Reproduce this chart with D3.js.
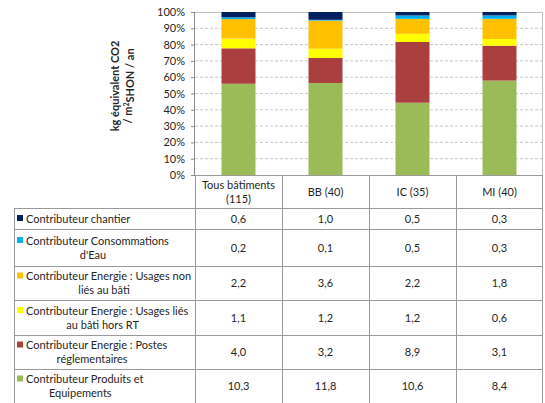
<!DOCTYPE html>
<html><head><meta charset="utf-8">
<script src="https://cdn.jsdelivr.net/npm/d3@7"></script>
<style>body{margin:0;background:#fff}svg{display:block}text{font-family:Lato,"Liberation Sans",sans-serif;fill:#262626}</style>
</head><body><svg id="c" width="545" height="403"></svg>
<script>
const categories = ["Tous bâtiments (115)", "BB (40)", "IC (35)", "MI (40)"];
const categoryLines = [["Tous bâtiments", "(115)"], ["BB (40)"], ["IC (35)"], ["MI (40)"]];
const seriesNames = ["Contributeur chantier", "Contributeur Consommations d'Eau", "Contributeur Energie : Usages non liés au bâti", "Contributeur Energie : Usages liés au bâti hors RT", "Contributeur Energie : Postes réglementaires", "Contributeur Produits et Equipements"];
const seriesLines = [["Contributeur chantier"], ["Contributeur Consommations", "d'Eau"], ["Contributeur Energie : Usages non", "liés au bâti"], ["Contributeur Energie : Usages liés", "au bâti hors RT"], ["Contributeur Energie : Postes", "réglementaires"], ["Contributeur Produits et", "Equipements"]];
const chantier = [0.6, 1.0, 0.5, 0.3];
const eau = [0.2, 0.1, 0.5, 0.3];
const nonLies = [2.2, 3.6, 2.2, 1.8];
const lies = [1.1, 1.2, 1.2, 0.6];
const postes = [4.0, 3.2, 8.9, 3.1];
const produits = [10.3, 11.8, 10.6, 8.4];
const seriesColors = ["#002060", "#00B0F0", "#FFC000", "#FFFF00", "#A9403F", "#9BBB59"];
const yTicks = [0, 0.1, 0.2, 0.3, 0.4, 0.5, 0.6, 0.7, 0.8, 0.9, 1.0];
const yTitle = ["kg équivalent CO2", "/ m²SHON / an"];

const seriesValues = [chantier, eau, nonLies, lies, postes, produits];
const svg = d3.select("#c");
const plotL = 195, plotR = 543, plotT = 12, plotB = 175;
const x = d3.scaleBand().domain(categories).range([plotL, plotR]).paddingInner(0).paddingOuter(0);
const y = d3.scaleLinear().domain([0, 1]).range([plotB, plotT]);

// gridlines
svg.append("g").selectAll("line").data(yTicks.filter(d => d > 0 && d < 1)).join("line")
  .attr("x1", plotL).attr("x2", plotR).attr("y1", d => y(d)).attr("y2", d => y(d))
  .attr("stroke", "#c8c8c8").attr("stroke-width", 1).attr("stroke-dasharray", "3,2");
// plot border top & right
svg.append("path").attr("d", `M${plotL},${y(1)+0.5}H${plotR-0.5}V${plotB}`).attr("fill", "none").attr("stroke", "#bfbfbf");

// stacked bars (bottom: produits)
const rows = categories.map((c, i) => {
  const o = {cat: c};
  seriesNames.forEach((s, j) => o[s] = seriesValues[j][i]);
  return o;
});
const stackOrder = seriesNames.slice().reverse();
const stacked = d3.stack().keys(stackOrder).offset(d3.stackOffsetExpand)(rows);
const bw = 34;
svg.append("g").selectAll("g").data(stacked).join("g")
  .attr("fill", d => seriesColors[seriesNames.indexOf(d.key)])
  .selectAll("rect").data(d => d).join("rect")
  .attr("x", d => x(d.data.cat) + x.bandwidth()/2 - bw/2).attr("width", bw)
  .attr("y", d => y(d[1])).attr("height", d => y(d[0]) - y(d[1]));

// y axis
const ax = svg.append("g").attr("transform", `translate(${plotL},0)`)
  .call(d3.axisLeft(y).tickValues(yTicks).tickFormat(d3.format(".0%")).tickSize(4).tickPadding(6));
ax.select(".domain").attr("stroke", "#8c8c8c").attr("d", `M-0.5,${plotT}V${plotB}`);
ax.selectAll(".tick line").attr("stroke", "#8c8c8c");
ax.selectAll(".tick text").style("font-family", "Lato, sans-serif").style("font-size", "11px").attr("fill", "#262626");

// y title
const yt = svg.append("text").attr("transform", "translate(122,86) rotate(-90)")
  .attr("text-anchor", "middle").style("font-size", "11px").style("font-weight", "bold");
yTitle.forEach((t, i) => {
  const ts = yt.append("tspan").attr("x", 0).attr("dy", i === 0 ? "-0.25em" : "1.15em");
  if (t.includes("²")) {
    ts.text("/ m");
    yt.append("tspan").text("2").attr("dy", "-0.45em").style("font-size", "7px");
    yt.append("tspan").text("SHON / an").attr("dy", "0.45em");
  } else ts.text(t);
});

// data table
const rowEdges = [175, 208, 229, 266, 300, 335, 369, 403];
const tableL = 14;
const tg = svg.append("g");
const lineColor = "#9a9a9a";
rowEdges.forEach((ry, i) => {
  if (i === 0) return;
  tg.append("line").attr("x1", tableL).attr("x2", plotR)
    .attr("y1", ry + 0.5).attr("y2", ry + 0.5).attr("stroke", lineColor);
});
tg.append("line").attr("x1", plotL).attr("x2", plotR).attr("y1", 175.5).attr("y2", 175.5).attr("stroke", lineColor);
tg.append("line").attr("x1", tableL + 0.5).attr("x2", tableL + 0.5).attr("y1", 208).attr("y2", 403).attr("stroke", lineColor);
categories.forEach(c => {
  tg.append("line").attr("x1", x(c) + 0.5).attr("x2", x(c) + 0.5).attr("y1", 175).attr("y2", 403).attr("stroke", lineColor);
});
tg.append("line").attr("x1", plotR - 0.5).attr("x2", plotR - 0.5).attr("y1", 175).attr("y2", 403).attr("stroke", lineColor);

// header labels
categories.forEach((c, i) => {
  const lines = categoryLines[i];
  const cy = (rowEdges[0] + rowEdges[1]) / 2;
  const t = tg.append("text").attr("text-anchor", "middle").style("font-size", "11px");
  lines.forEach((l, k) => t.append("tspan").attr("x", x(c) + x.bandwidth()/2)
    .attr("y", cy + (k - (lines.length - 1)/2) * 14 + 4).text(l));
});

// rows
seriesNames.forEach((s, j) => {
  const top = rowEdges[j + 1], bot = rowEdges[j + 2];
  const cy = (top + bot) / 2;
  const lines = seriesLines[j];
  tg.append("rect").attr("x", 17).attr("y", (lines.length === 1 ? cy : cy - 7) - 3.5).attr("width", 6).attr("height", 6).attr("fill", seriesColors[j]);
  const t1 = tg.append("text").attr("x", 26).attr("y", cy + (lines.length === 1 ? 4 : -3)).style("font-size", "11px").text(lines[0]);
  if (lines.length > 1) {
    const w = t1.node().getComputedTextLength();
    tg.append("text").attr("x", 17 + (w + 9)/2).attr("y", cy + 11).attr("text-anchor", "middle").style("font-size", "11px").text(lines[1]);
  }
  categories.forEach((c, i) => {
    tg.append("text").attr("x", x(c) + x.bandwidth()/2).attr("y", cy + 4).attr("text-anchor", "middle")
      .style("font-size", "11px").text(d3.format(".1f")(seriesValues[j][i]).replace(".", ","));
  });
});
</script></body></html>
